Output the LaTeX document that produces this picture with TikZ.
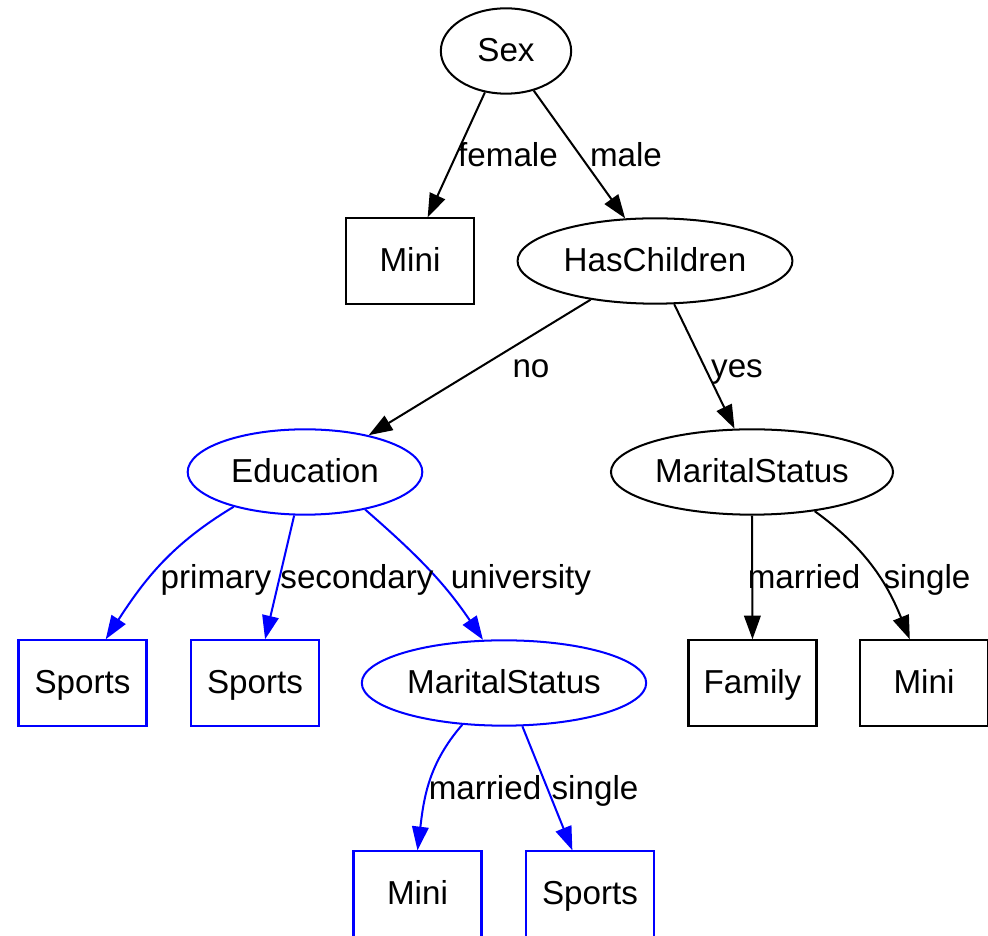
\documentclass[tikz,border=0pt]{standalone}
\usepackage{fontspec}
\setmainfont{Liberation Sans}
\usetikzlibrary{arrows.meta,shapes.geometric}
\begin{document}
\begin{tikzpicture}[x=0.4219pt,y=0.4219pt,line width=0.85pt,
  test/.style={ellipse,draw,inner sep=0pt,minimum height=36pt,
    font=\fontsize{14pt}{17pt}\selectfont,text height=10pt,text depth=0.8pt},
  leaf/.style={rectangle,draw,inner sep=0pt,minimum width=54pt,minimum height=36pt,
    font=\fontsize{14pt}{17pt}\selectfont,text height=10pt,text depth=0.8pt},
  lbl/.style={anchor=base,inner sep=0pt,font=\fontsize{14pt}{17pt}\selectfont},
  edge/.style={-{Triangle[length=10pt,width=7pt]}}]
\useasboundingbox (0,0) rectangle (988,936);
% tests
\node[test,minimum width=55pt] (sex) at (506,885) {Sex};
\node[test,minimum width=116pt] (haschildren) at (655,675) {HasChildren};
\node[test,draw=blue,minimum width=99pt] (education) at (305,464) {Education};
\node[test,minimum width=119pt] (maritalA) at (752,464) {MaritalStatus};
\node[test,draw=blue,minimum width=120pt] (maritalB) at (504,253) {MaritalStatus};
% leaves
\node[leaf] (mini1) at (410,675) {Mini};
\node[leaf,draw=blue] (sports1) at (82.5,253) {Sports};
\node[leaf,draw=blue] (sports2) at (255,253) {Sports};
\node[leaf] (family) at (752.5,253) {Family};
\node[leaf] (mini2) at (924,253) {Mini};
\node[leaf,draw=blue] (mini3) at (417.5,42) {Mini};
\node[leaf,draw=blue] (sports3) at (590,42) {Sports};
% edges
\draw[edge] (sex.-117) -- (mini1.68);
\draw[edge] (sex.-55) -- (haschildren.125);
\draw[edge] (haschildren.-149) -- (education.30);
\draw[edge] (haschildren.-66) -- (maritalA.112);
\draw[edge,blue] (education.-154) to[out=-149,in=57] (sports1.62);
\draw[edge,blue] (education.-104) -- (sports2.77);
\draw[edge,blue] (education.-32) to[out=-41,in=124] (maritalB.116);
\draw[edge] (maritalA.south) -- (family.north);
\draw[edge] (maritalA.-32) to[out=-36,in=112] (mini2.108);
\draw[edge,blue] (maritalB.-135) to[out=-131,in=83] (mini3.north);
\draw[edge,blue] (maritalB.-67) -- (sports3.112);
% labels
\node[lbl] (lfemale) at (508,769) {female};
\node[lbl] (lmale) at (626,769) {male};
\node[lbl] (lno) at (531,558) {no};
\node[lbl] (lyes) at (737,558) {yes};
\node[lbl] (lprimary) at (216,347) {primary};
\node[lbl] (lsecondary) at (357,347) {secondary};
\node[lbl] (luniversity) at (521,347) {university};
\node[lbl] (lmarriedA) at (804,347) {married};
\node[lbl] (lsingleA) at (927,347) {single};
\node[lbl] (lmarriedB) at (485,136) {married};
\node[lbl] (lsingleB) at (595,136) {single};
\end{tikzpicture}
\end{document}
